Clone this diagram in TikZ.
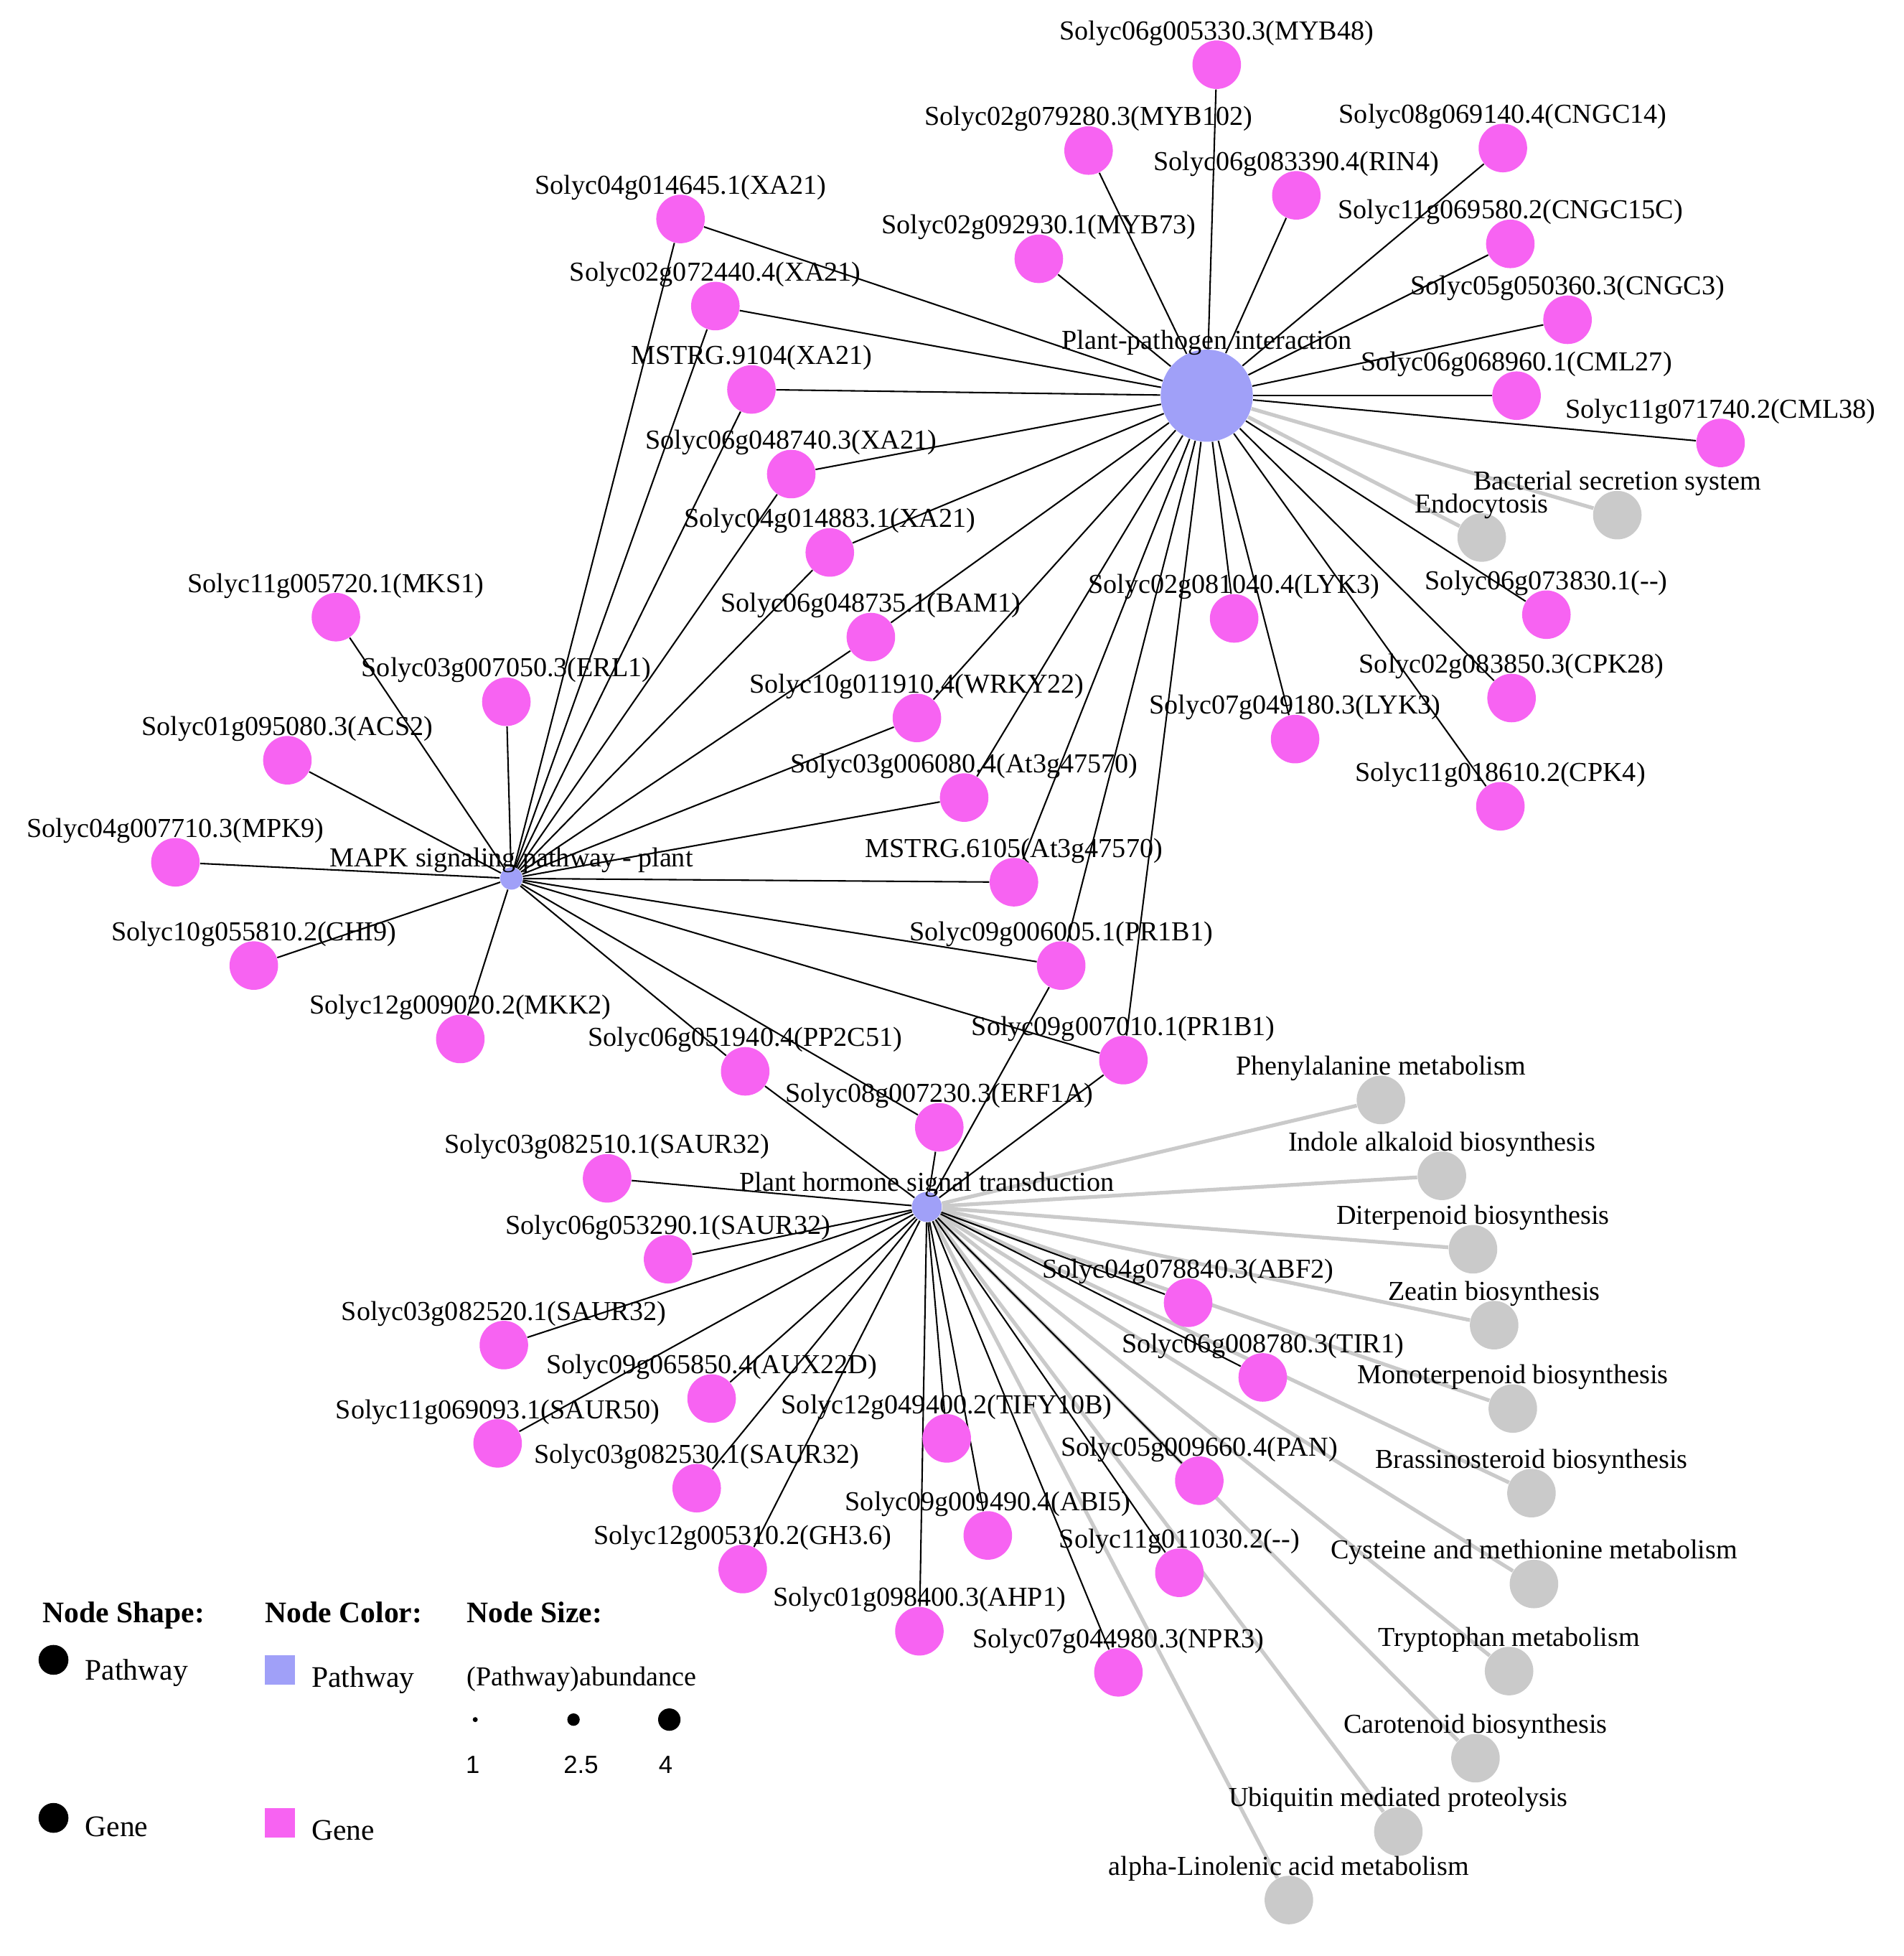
\documentclass[tikz,border=0pt]{standalone}
\usepackage{fontspec}
\setmainfont{Liberation Serif}
\newfontfamily\legsans{Liberation Sans}
\usetikzlibrary{backgrounds}
\definecolor{gmag}{HTML}{F763F2}
\definecolor{pblue}{HTML}{A0A0F8}
\definecolor{ggrey}{HTML}{CACACA}
\begin{document}
\begin{tikzpicture}[x=0.5pt,y=-0.5pt,
  every label/.style={inner sep=0pt,font=\fontsize{11}{12}\selectfont},
  lbl/.style={label={[label distance=-2.5pt]above:#1}},
  gene/.style={circle,fill=gmag,inner sep=0pt,minimum size=19.5pt,lbl={#1}},
  grey/.style={circle,fill=ggrey,inner sep=0pt,minimum size=19.5pt,lbl={#1}},
  path/.style={circle,fill=pblue,inner sep=0pt},
  e/.style={draw=black,line width=0.6pt},
  ge/.style={draw=ggrey,line width=1.5pt}]
\useasboundingbox (0,0) rectangle (1530,1572);
% pathways
\node[path,minimum size=37pt,lbl={Plant-pathogen interaction}] (PPI) at (970,318) {};
\node[path,minimum size=9pt,lbl={MAPK signaling pathway - plant}] (MAPK) at (411,706) {};
\node[path,minimum size=12pt,lbl={Plant hormone signal transduction}] (PH) at (745,970) {};
% PPI genes
\node[gene={Solyc06g005330.3(MYB48)}] (g1) at (978,52) {};
\node[gene={Solyc02g079280.3(MYB102)}] (g2) at (875,121) {};
\node[gene={Solyc08g069140.4(CNGC14)}] (g3) at (1208,119) {};
\node[gene={Solyc06g083390.4(RIN4)}] (g4) at (1042,157) {};
\node[gene={Solyc02g092930.1(MYB73)}] (g5) at (835,208) {};
\node[gene={Solyc11g069580.2(CNGC15C)}] (g6) at (1214,196) {};
\node[gene={Solyc04g014645.1(XA21)}] (g7) at (547,176) {};
\node[gene={Solyc02g072440.4(XA21)}] (g8) at (575,246) {};
\node[gene={Solyc05g050360.3(CNGC3)}] (g9) at (1260,257) {};
\node[gene={MSTRG.9104(XA21)}] (g10) at (604,313) {};
\node[gene={Solyc06g068960.1(CML27)}] (g11) at (1219,318) {};
\node[gene={Solyc11g071740.2(CML38)}] (g12) at (1383,356) {};
\node[gene={Solyc06g048740.3(XA21)}] (g13) at (636,381) {};
\node[gene={Solyc04g014883.1(XA21)}] (g14) at (667,444) {};
\node[grey={Bacterial secretion system}] (b1) at (1300,414) {};
\node[grey={Endocytosis}] (b2) at (1191,432) {};
\node[gene={Solyc06g073830.1({-}{-})}] (g17) at (1243,494) {};
\node[gene={Solyc02g081040.4(LYK3)}] (g18) at (992,497) {};
\node[gene={Solyc06g048735.1(BAM1)}] (g19) at (700,512) {};
\node[gene={Solyc02g083850.3(CPK28)}] (g20) at (1215,561) {};
\node[gene={Solyc10g011910.4(WRKY22)}] (g21) at (737,577) {};
\node[gene={Solyc07g049180.3(LYK3)}] (g22) at (1041,594) {};
\node[gene={Solyc11g018610.2(CPK4)}] (g23) at (1206,648) {};
\node[gene={Solyc03g006080.4(At3g47570)}] (g24) at (775,641) {};
\node[gene={MSTRG.6105(At3g47570)}] (g25) at (815,709) {};
\node[gene={Solyc09g006005.1(PR1B1)}] (g26) at (853,776) {};
\node[gene={Solyc09g007010.1(PR1B1)}] (g27) at (903,852) {};
\node[gene={Solyc08g007230.3(ERF1A)}] (g28) at (755,906) {};
\node[gene={Solyc06g051940.4(PP2C51)}] (g29) at (599,861) {};
% MAPK genes
\node[gene={Solyc11g005720.1(MKS1)}] (m1) at (270,496) {};
\node[gene={Solyc03g007050.3(ERL1)}] (m2) at (407,564) {};
\node[gene={Solyc01g095080.3(ACS2)}] (m3) at (231,611) {};
\node[gene={Solyc04g007710.3(MPK9)}] (m4) at (141,693) {};
\node[gene={Solyc10g055810.2(CHI9)}] (m5) at (204,776) {};
\node[gene={Solyc12g009020.2(MKK2)}] (m6) at (370,835) {};
% PH genes
\node[gene={Solyc03g082510.1(SAUR32)}] (h1) at (488,947) {};
\node[gene={Solyc06g053290.1(SAUR32)}] (h2) at (537,1012) {};
\node[gene={Solyc03g082520.1(SAUR32)}] (h3) at (405,1081) {};
\node[gene={Solyc09g065850.4(AUX22D)}] (h4) at (572,1124) {};
\node[gene={Solyc11g069093.1(SAUR50)}] (h5) at (400,1160) {};
\node[gene={Solyc03g082530.1(SAUR32)}] (h6) at (560,1196) {};
\node[gene={Solyc12g049400.2(TIFY10B)}] (h7) at (761,1156) {};
\node[gene={Solyc12g005310.2(GH3.6)}] (h8) at (597,1261) {};
\node[gene={Solyc09g009490.4(ABI5)}] (h9) at (794,1234) {};
\node[gene={Solyc01g098400.3(AHP1)}] (h10) at (739,1311) {};
\node[gene={Solyc04g078840.3(ABF2)}] (h11) at (955,1047) {};
\node[gene={Solyc06g008780.3(TIR1)}] (h12) at (1015,1107) {};
\node[gene={Solyc05g009660.4(PAN)}] (h13) at (964,1190) {};
\node[gene={Solyc11g011030.2({-}{-})}] (h14) at (948,1264) {};
\node[gene={Solyc07g044980.3(NPR3)}] (h15) at (899,1344) {};
% grey PH
\node[grey={Phenylalanine metabolism}] (r1) at (1110,884) {};
\node[grey={Indole alkaloid biosynthesis}] (r2) at (1159,945) {};
\node[grey={Diterpenoid biosynthesis}] (r3) at (1184,1004) {};
\node[grey={Zeatin biosynthesis}] (r4) at (1201,1065) {};
\node[grey={Monoterpenoid biosynthesis}] (r5) at (1216,1132) {};
\node[grey={Brassinosteroid biosynthesis}] (r6) at (1231,1200) {};
\node[grey={Cysteine and methionine metabolism}] (r7) at (1233,1273) {};
\node[grey={Tryptophan metabolism}] (r8) at (1213,1343) {};
\node[grey={Carotenoid biosynthesis}] (r9) at (1186,1413) {};
\node[grey={Ubiquitin mediated proteolysis}] (r10) at (1124,1472) {};
\node[grey={alpha-Linolenic acid metabolism}] (r11) at (1036,1527) {};
\begin{pgfonlayer}{background}
\foreach \g in {b1,b2} \draw[ge] (PPI) -- (\g);
\foreach \g in {r1,r2,r3,r4,r5,r6,r7,r8,r9,r10,r11} \draw[ge] (PH) -- (\g);
\foreach \g in {g1,g2,g3,g4,g5,g6,g7,g8,g9,g10,g11,g12,g13,g14,g17,g18,g19,g20,g21,g22,g23,g24,g25,g26,g27}
  \draw[e] (PPI) -- (\g);
\foreach \g in {g7,g8,g10,g13,g14,g19,g21,g24,g25,g26,g27,g28,g29,m1,m2,m3,m4,m5,m6}
  \draw[e] (MAPK) -- (\g);
\foreach \g in {g26,g27,g28,g29,h1,h2,h3,h4,h5,h6,h7,h8,h9,h10,h11,h12,h13,h14,h15}
  \draw[e] (PH) -- (\g);
\end{pgfonlayer}
% legend
\begin{scope}[every node/.style={font=\fontsize{12}{14}\selectfont,inner sep=0pt}]
\node[anchor=base west,font=\fontsize{12}{14}\selectfont\bfseries] (l1) at (34,1304) {Node Shape:};
\node[anchor=base west,font=\fontsize{12}{14}\selectfont\bfseries] (l2) at (213,1304) {Node Color:};
\node[anchor=base west,font=\fontsize{12}{14}\selectfont\bfseries] (l3) at (375,1304) {Node Size:};
\node[circle,fill=black,minimum size=12pt] (s1) at (43,1334) {};
\node[anchor=base west] (s1t) at (68,1350) {Pathway};
\node[circle,fill=black,minimum size=12pt] (s2) at (43,1461) {};
\node[anchor=base west] (s2t) at (68,1476) {Gene};
\node[fill=pblue,minimum size=12pt] (c1) at (225,1342) {};
\node[anchor=base west] (c1t) at (250,1356) {Pathway};
\node[fill=gmag,minimum size=12pt] (c2) at (225,1465) {};
\node[anchor=base west] (c2t) at (250,1479) {Gene};
\node[anchor=base west,font=\fontsize{11}{12}\selectfont] (a0) at (375,1355) {(Pathway)abundance};
\node[circle,fill=black,minimum size=2pt] (d1) at (382,1382) {};
\node[circle,fill=black,minimum size=5pt] (d2) at (461,1382) {};
\node[circle,fill=black,minimum size=9pt] (d3) at (538,1382) {};
\node[font=\legsans\fontsize{10}{12}\selectfont] (n1) at (380,1418) {1};
\node[font=\legsans\fontsize{10}{12}\selectfont] (n2) at (467,1418) {2.5};
\node[font=\legsans\fontsize{10}{12}\selectfont] (n3) at (535,1418) {4};
\end{scope}
\end{tikzpicture}
\end{document}
